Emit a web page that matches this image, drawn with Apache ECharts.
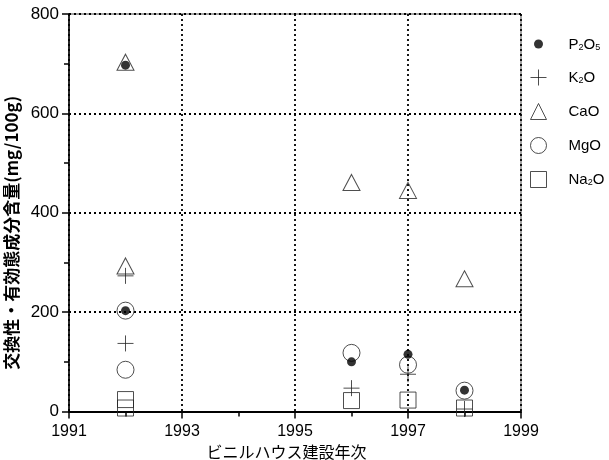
<!DOCTYPE html>
<html>
<head>
<meta charset="utf-8">
<script src="https://cdn.jsdelivr.net/npm/echarts@6/dist/echarts.min.js"></script>
<style>html,body{margin:0;padding:0;background:#fff}#c{width:609px;height:460px}</style>
</head>
<body>
<div id="c"></div>
<script>
// Data: [year, mg/100g]
const p2o5 = [[1992, 697], [1992, 203], [1996, 100], [1997, 115], [1998, 43]];
const k2o  = [[1992, 273], [1992, 137], [1996, 47], [1997, 75], [1998, 5]];
const cao  = [[1992, 703], [1992, 293], [1996, 461], [1997, 445], [1998, 267]];
const mgo  = [[1992, 203], [1992, 84], [1996, 118], [1997, 94], [1998, 42]];
const na2o = [[1992, 24], [1992, 7], [1996, 22], [1997, 23], [1998, 7]];
const seriesNames = ['P2O5', 'K2O', 'CaO', 'MgO', 'Na2O'];
const legendLabels = {
  'P2O5': '{b|P}{s|2}{b|O}{s|5}',
  'K2O': '{b|K}{s|2}{b|O}',
  'CaO': '{b|CaO}',
  'MgO': '{b|MgO}',
  'Na2O': '{b|Na}{s|2}{b|O}'
};
const xMin = 1991, xMax = 1999, xStep = 2;
const yMin = 0, yMax = 800, yStep = 200;

const latin = '"Liberation Sans", Arial, sans-serif';
const cjk = '"Noto Sans CJK JP", sans-serif';
const plusPath = 'path://M0,8L16,8M8,0L8,16';
const dotLegend = 'path://M0,0M16,16M3.5,8A4.5,4.5 0 1,1 12.5,8A4.5,4.5 0 1,1 3.5,8Z';
const hollow = { color: 'transparent', borderColor: '#222', borderWidth: 1 };

const chart = echarts.init(document.getElementById('c'), null, { renderer: 'canvas' });
chart.setOption({
  animation: false,
  backgroundColor: '#fff',
  grid: { left: 69, right: 88, top: 14, bottom: 48.5, outerBoundsMode: 'none', containLabel: false, show: true, borderColor: '#444', borderWidth: 1, backgroundColor: 'transparent' },
  legend: {
    orient: 'vertical',
    left: 525,
    top: 31,
    itemWidth: 16,
    itemHeight: 16,
    itemGap: 17,
    selectedMode: false,
    formatter: function (n) { return legendLabels[n]; },
    textStyle: {
      padding: [0, 0, 0, 17],
      rich: {
        b: { fontFamily: latin, fontSize: 15, color: '#000', verticalAlign: 'bottom', lineHeight: 16 },
        s: { fontFamily: latin, fontSize: 9, color: '#000', verticalAlign: 'bottom', lineHeight: 14 }
      }
    },
    data: [
      { name: 'P2O5', icon: dotLegend, itemStyle: { color: '#000', borderWidth: 0 } },
      { name: 'K2O', icon: plusPath, itemStyle: { color: 'transparent', borderColor: '#222', borderWidth: 1 } },
      { name: 'CaO', icon: 'triangle', itemStyle: { color: 'transparent', borderColor: '#222', borderWidth: 1 } },
      { name: 'MgO', icon: 'circle', itemStyle: { color: 'transparent', borderColor: '#222', borderWidth: 1 } },
      { name: 'Na2O', icon: 'rect', itemStyle: { color: 'transparent', borderColor: '#222', borderWidth: 1 } }
    ]
  },
  xAxis: {
    type: 'value',
    min: xMin, max: xMax, interval: xStep,
    name: 'ビニルハウス建設年次',
    nameLocation: 'middle',
    nameGap: 27,
    nameTextStyle: { fontFamily: cjk, fontSize: 16, color: '#000', padding: [0, 17, 0, 0] },
    axisLine: { show: true, lineStyle: { color: '#000', width: 2 } },
    axisTick: { show: true, length: 7, lineStyle: { color: '#000', width: 1.5 } },
    minorTick: { show: true, splitNumber: 2, length: 5, lineStyle: { color: '#000', width: 1.5 } },
    axisLabel: { fontFamily: latin, fontSize: 16, color: '#000', margin: 12, formatter: function (v) { return String(v); } },
    splitLine: { show: true, lineStyle: { color: '#000', width: 1.8, type: [2, 3] } }
  },
  yAxis: {
    type: 'value',
    min: yMin, max: yMax, interval: yStep,
    name: '交換性・有効態成分含量(mg/100g)',
    nameLocation: 'middle',
    nameRotate: 90,
    nameGap: 44,
    nameTextStyle: { fontFamily: cjk, fontSize: 17, fontWeight: 'bold', color: '#000', padding: [0, 40, 0, 0] },
    axisLine: { show: true, lineStyle: { color: '#000', width: 1.5 } },
    axisTick: { show: true, length: 7, lineStyle: { color: '#000', width: 1.5 } },
    minorTick: { show: true, splitNumber: 2, length: 5, lineStyle: { color: '#000', width: 1.5 } },
    axisLabel: { fontFamily: latin, fontSize: 17, color: '#000', margin: 10 },
    splitLine: { show: true, lineStyle: { color: '#000', width: 1.8, type: [2, 3] } }
  },
  series: [
    { name: 'Na2O', type: 'scatter', data: na2o, symbol: 'rect', symbolSize: 16, itemStyle: hollow, clip: false, z: 2 },
    { name: 'MgO', type: 'scatter', data: mgo, symbol: 'circle', symbolSize: 17, itemStyle: hollow, clip: false, z: 3 },
    { name: 'CaO', type: 'scatter', data: cao, symbol: 'triangle', symbolSize: [17, 16], itemStyle: hollow, clip: false, z: 4 },
    { name: 'K2O', type: 'scatter', data: k2o, symbol: plusPath, symbolSize: 16, itemStyle: hollow, clip: false, z: 5 },
    { name: 'P2O5', type: 'scatter', data: p2o5, symbol: 'circle', symbolSize: 9, itemStyle: { color: '#000' }, clip: false, z: 6 }
  ]
});
</script>
</body>
</html>
